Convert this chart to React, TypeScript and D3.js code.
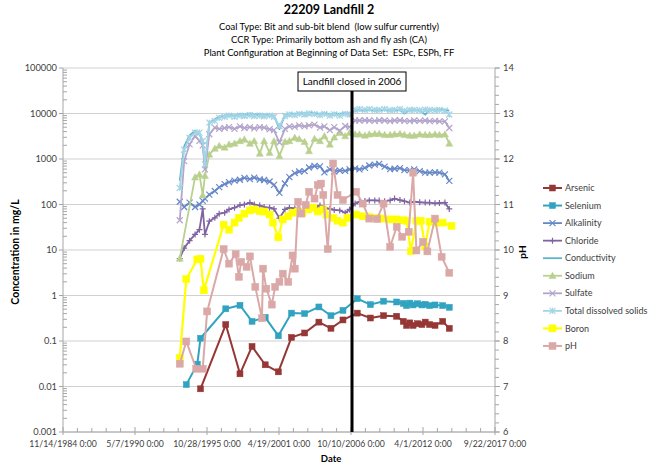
import React from "react";
import * as d3 from "d3";

// ---------- DATA ----------
const titleLines = [
  "Coal Type: Bit and sub-bit blend  (low sulfur currently)",
  "CCR Type: Primarily bottom ash and fly ash (CA)",
  "Plant Configuration at Beginning of Data Set:  ESPc, ESPh, FF",
];
const xTickLabels = [
  "11/14/1984 0:00", "5/7/1990 0:00", "10/28/1995 0:00", "4/19/2001 0:00",
  "10/10/2006 0:00", "4/1/2012 0:00", "9/22/2017 0:00",
];
const leftTickLabels = ["0.001", "0.01", "0.1", "1", "10", "100", "1000", "10000", "100000"];
const rightTickLabels = ["6", "7", "8", "9", "10", "11", "12", "13", "14"];
const closureDate = "2006-11-07";
const closureLabel = "Landfill closed in 2006";

const metalDates = [
  "1994-04", "1995-02", "1995-05", "1997-04", "1998-05", "1999-04", "2000-04", "2001-04",
  "2002-04", "2003-04", "2004-05", "2005-04", "2006-03", "2007-04", "2008-04", "2009-04",
  "2010-04", "2010-10", "2011-01", "2011-04", "2011-07", "2011-11", "2012-03", "2012-06",
  "2012-10", "2013-03", "2013-10", "2014-04",
];
const arsenic = [
  null, null, 0.0089, 0.23, 0.019, 0.076, 0.03, 0.021, 0.12, 0.15, 0.26, 0.19, 0.29, 0.41,
  0.32, 0.36, 0.35, 0.27, 0.22, 0.25, 0.22, 0.24, 0.23, 0.26, 0.23, 0.22, 0.27, 0.19,
];
const selenium = [
  0.011, 0.031, 0.115, 0.51, 0.61, 0.27, 0.33, 0.13, 0.41, 0.4, 0.56, 0.36, 0.47, 0.85,
  0.63, 0.75, 0.72, 0.67, 0.6, 0.68, 0.62, 0.66, 0.62, 0.64, 0.6, 0.62, 0.6, 0.55,
];

const denseDates = [
  "1993-10", "1994-02", "1994-07", "1994-12", "1995-04", "1995-07", "1995-09", "1996-01",
  "1996-06", "1996-10", "1997-03", "1997-07", "1997-12", "1998-05", "1998-09", "1999-02",
  "1999-06", "1999-11", "2000-03", "2000-08", "2000-12", "2001-05", "2001-10", "2002-02",
  "2002-07", "2002-11", "2003-04", "2003-08", "2004-01", "2004-06", "2004-10", "2005-03",
  "2005-07", "2005-12", "2006-05", "2006-09", "2007-02", "2007-06", "2007-11", "2008-03",
  "2008-08", "2008-12", "2009-05", "2009-10", "2010-02", "2010-07", "2010-11", "2011-04",
  "2011-08", "2012-01", "2012-06", "2012-10", "2013-03", "2013-07", "2013-12", "2014-04",
];
const alkalinity = [
  115, 88, 110, 88, 100, 120, 135, 165, 198, 240, 280, 310, 335, 350, 385, 360, 390, 355, 345, 320,
  270, 180, 290, 400, 490, 530, 540, 650, 700, 690, 510, 590, 530, 560, 550, 590, 620, 590, 640, 720,
  750, 780, 680, 600, 610, 630, 570, 570, 590, 540, 500, 500, 510, 500, 460, 330,
];
const chloride = [
  6.5, 11, 16, 22, 28, 80, 22, 43, 51, 63, 66, 78, 85, 97, 100, 110, 100, 95, 88, 85,
  80, 50, 78, 85, 82, 78, 72, 78, 82, 95, 85, 80, 76, 74, 66, 78, 105, 115, 120, 123,
  123, 122, 118, 123, 135, 125, 118, 110, 115, 112, 110, 110, 106, 108, 110, 80,
];
const conductivity = [
  330, 1900, 3300, 4200, 3500, 2500, 590, 6300, 7500, 8500, 9000, 9500, 9000, 9800, 9500, 10000, 9500, 9800, 9300, 9500,
  9000, 4500, 9200, 10000, 9800, 10200, 10000, 10500, 10200, 9800, 10500, 9500, 10000, 9800, 10500, 10000, 11500, 11800, 11500, 12000,
  11500, 11800, 12000, 11500, 11800, 12000, 10000, 11800, 12000, 11500, 9500, 12000, 12000, 12500, 12000, 11500,
];
const sodium = [
  6.5, null, null, 400, 460, 160, 430, 1260, 1700, 1950, 1800, 2100, 2200, 2500, 2700, 2200, 2500, 1320, 2500, 1380,
  2500, 1170, 2400, 2500, 2950, 2750, 2400, 1500, 2800, 2500, 3200, 2100, 3000, 3800, 3200, 3800, 3500, 3500, 3300, 3500,
  3600, 3600, 3400, 3400, 3500, 3600, 3400, 3300, 3300, 3500, 3400, 3400, 3500, 3400, 3500, 2200,
];
const sulfate = [
  45, 900, 2100, 3200, 2500, 2000, 590, 3500, 4900, 4600, 4800, 5000, 4600, 5200, 4800, 5000, 4700, 5000, 4900, 4500,
  4300, 2300, 4600, 5200, 5100, 5500, 5200, 5500, 5700, 4900, 5200, 4300, 5000, 4200, 5300, 5000, 7000, 7000, 7100, 7000,
  6900, 7100, 7000, 6800, 7000, 7100, 6900, 6800, 7000, 6900, 7000, 6800, 6900, 6700, 6700, 4800,
];
const tds = [
  230, 1600, 2900, 3800, 3800, 2500, 760, 6300, 6900, 8000, 8500, 9000, 8500, 9000, 8800, 9200, 8800, 9000, 8700, 9000,
  8500, 5300, 8800, 9500, 9200, 9800, 9500, 10000, 9700, 9200, 9800, 9000, 9600, 9000, 9800, 9500, 12000, 12500, 12000, 12500,
  12000, 12000, 12500, 11800, 12000, 12500, 11500, 12000, 12000, 11800, 12200, 12000, 11800, 12000, 11500, 9500,
];

const boronDates = [
  "1993-10", "1994-04", "1995-02", "1995-05", "1995-08", "1997-02", "1997-07", "1997-12",
  "1998-04", "1998-09", "1999-02", "1999-06", "1999-11", "2000-03", "2000-08", "2000-11",
  "2001-04", "2001-08", "2002-01", "2002-05", "2002-10", "2003-02", "2003-07", "2003-12",
  "2004-04", "2004-09", "2004-12", "2005-06", "2005-10", "2006-03", "2006-07", "2007-03",
  "2007-09", "2008-03", "2008-10", "2009-03", "2009-10", "2010-04", "2010-10", "2011-01",
  "2011-05", "2011-10", "2012-02", "2012-06", "2012-10", "2013-04", "2013-10", "2014-06",
];
const boron = [
  0.042, 2.3, 6.2, 6.4, 1.3, 36, 28, 40, 51, 63, 74, 78, 71, 70, 60, 40,
  19, 47, 55, 66, 70, 66, 78, 85, 70, 78, 60, 51, 44, 40, 51, 60,
  55, 53, 51, 49, 47, 47, 45, 44, 9.4, 44, 44, 12, 42, 40, 40, 34,
];

const phDates = [
  "1993-10", "1994-04", "1995-01", "1995-07", "1995-11", "1997-02", "1997-07", "1998-01",
  "1998-04", "1998-06", "1998-11", "1999-02", "1999-07", "2000-01", "2000-02", "2000-05",
  "2000-10", "2001-01", "2001-05", "2001-08", "2002-01", "2002-05", "2002-07", "2002-10",
  "2003-01", "2003-05", "2003-08", "2004-01", "2004-04", "2004-07", "2004-09", "2005-01",
  "2005-06", "2005-10", "2006-03", "2007-03", "2007-09", "2008-03", "2008-10", "2009-04",
  "2009-10", "2010-04", "2010-09", "2011-03", "2011-07", "2011-10", "2012-04", "2012-08",
  "2013-03", "2013-09", "2014-04",
];
const ph = [
  7.5, 7.99, 7.39, 7.39, 8.65, 10.02, 9.7, 9.91, 9.41, 9.74, 9.63, 9.86, 9.19, 8.5, 9.59, 9.15,
  8.8, 9.19, 9.3, 9.48, 9.3, 9.88, 9.59, 11.06, 10.8, 10.99, 11.28, 11.13, 11.43, 11.46, 11.21, 10.02,
  11.9, 11.21, 11.1, 11.28, 11.02, 10.69, 10.68, 11.02, 10.07, 10.51, 10.29, 10.4, 11.7, 9.99, 10.18, 9.97,
  10.69, 9.85, 9.5,
];

// ---------- LAYOUT ----------
const W = 657;
const H = 466;
const PL = 63, PR = 495, PT = 68, PB = 432;
const FONT = "Lato, 'Open Sans', sans-serif";

type Shape = "square" | "x" | "plus" | "triangle" | "star" | "none";

const seriesDefs = [
  { name: "Arsenic", dates: metalDates, values: arsenic, color: "#953735", shape: "square" as Shape, axis: "L", size: 6, lw: 2 },
  { name: "Selenium", dates: metalDates, values: selenium, color: "#31a3c0", shape: "square" as Shape, axis: "L", size: 6, lw: 2 },
  { name: "Alkalinity", dates: denseDates, values: alkalinity, color: "#6788c8", shape: "x" as Shape, axis: "L", size: 6, lw: 1.8 },
  { name: "Chloride", dates: denseDates, values: chloride, color: "#8064a2", shape: "plus" as Shape, axis: "L", size: 6, lw: 1.8 },
  { name: "Conductivity", dates: denseDates, values: conductivity, color: "#5bb3cc", shape: "none" as Shape, axis: "L", size: 0, lw: 1.8 },
  { name: "Sodium", dates: denseDates, values: sodium, color: "#b9d08f", shape: "triangle" as Shape, axis: "L", size: 7, lw: 1.8 },
  { name: "Sulfate", dates: denseDates, values: sulfate, color: "#b3a5cc", shape: "x" as Shape, axis: "L", size: 6, lw: 1.8 },
  { name: "Total dissolved solids", dates: denseDates, values: tds, color: "#a3d5e6", shape: "star" as Shape, axis: "L", size: 6, lw: 1.8 },
  { name: "Boron", dates: boronDates, values: boron, color: "#ffff00", shape: "square" as Shape, axis: "L", size: 7, lw: 2.2 },
  { name: "pH", dates: phDates, values: ph, color: "#dba8a8", shape: "square" as Shape, axis: "R", size: 7, lw: 2 },
];

function Marker({ shape, x, y, size, color }: { shape: Shape; x: number; y: number; size: number; color: string }) {
  const h = size / 2;
  switch (shape) {
    case "square":
      return <rect x={x - h} y={y - h} width={size} height={size} fill={color} stroke={color} strokeWidth={0.5} />;
    case "x":
      return (
        <path d={`M${x - h},${y - h}L${x + h},${y + h}M${x - h},${y + h}L${x + h},${y - h}`} stroke={color} strokeWidth={1.2} fill="none" />
      );
    case "plus":
      return <path d={`M${x - h},${y}L${x + h},${y}M${x},${y - h}L${x},${y + h}`} stroke={color} strokeWidth={1.2} fill="none" />;
    case "triangle":
      return <path d={`M${x},${y - h}L${x + h},${y + h * 0.8}L${x - h},${y + h * 0.8}Z`} fill={color} stroke={color} strokeWidth={0.5} />;
    case "star":
      return (
        <path
          d={`M${x - h},${y - h}L${x + h},${y + h}M${x - h},${y + h}L${x + h},${y - h}M${x},${y - h}L${x},${y + h}`}
          stroke={color}
          strokeWidth={1.2}
          fill="none"
        />
      );
    default:
      return null;
  }
}

export default function App() {
  const parseYM = d3.utcParse("%Y-%m");
  const parseDay = d3.utcParse("%Y-%m-%d");
  const parseTick = d3.utcParse("%m/%d/%Y");
  const tickDates = xTickLabels.map((l) => parseTick(l.split(" ")[0]) as Date);

  const x = d3.scaleUtc().domain([tickDates[0], tickDates[tickDates.length - 1]]).range([PL, PR]);
  const yL = d3.scaleLog().domain([+leftTickLabels[0], +leftTickLabels[leftTickLabels.length - 1]]).range([PB, PT]);
  const yR = d3.scaleLinear().domain([+rightTickLabels[0], +rightTickLabels[rightTickLabels.length - 1]]).range([PB, PT]);

  const xMinor: Date[] = [];
  for (let i = 0; i < tickDates.length - 1; i++) {
    for (let k = 1; k < 5; k++) xMinor.push(d3.utcDay.offset(tickDates[i], k * 400));
  }
  const lMinor: number[] = [];
  for (let i = 0; i < leftTickLabels.length - 1; i++) {
    const base = +leftTickLabels[i];
    for (let k = 2; k <= 9; k++) lMinor.push(base * k);
  }
  const rMinor = d3.range(+rightTickLabels[0], +rightTickLabels[rightTickLabels.length - 1] + 0.001, 0.2);

  const closeX = x(parseDay(closureDate) as Date);

  const series = seriesDefs.map((s) => {
    const ys = s.axis === "L" ? yL : yR;
    const pts = s.dates
      .map((d, i) => ({ d: parseYM(d) as Date, v: s.values[i] }))
      .filter((p) => p.v !== null && p.v !== undefined)
      .map((p) => ({ px: x(p.d), py: ys(p.v as number) }));
    const line = d3.line<{ px: number; py: number }>().x((p) => p.px).y((p) => p.py);
    return { ...s, pts, path: line(pts) || "" };
  });

  const legendX = 543;
  const legendY0 = 188;
  const legendDy = 17.55;

  return (
    <svg width={W} height={H} style={{ position: "absolute", left: 0, top: 0, display: "block", background: "#fff" }} fontFamily={FONT}>
      <rect x={0} y={0} width={W} height={H} fill="#fff" />
      <text x={329} y={14} textAnchor="middle" fontSize={12.5} fontWeight="bold" fill="#000">22209 Landfill 2</text>
      {titleLines.map((t, i) => (
        <text key={t} x={329} y={29.5 + i * 13} textAnchor="middle" fontSize={9.4} fill="#000" style={{ whiteSpace: "pre" }}>{t}</text>
      ))}

      {leftTickLabels.map((t) => (
        <line key={"g" + t} x1={PL} x2={PR} y1={yL(+t)} y2={yL(+t)} stroke="#d0d0d0" strokeWidth={1} />
      ))}
      <line x1={PL} x2={PL} y1={PT} y2={PB} stroke="#a6a6a6" />
      <line x1={PR} x2={PR} y1={PT} y2={PB} stroke="#a6a6a6" />
      <line x1={PL} x2={PR} y1={PB} y2={PB} stroke="#a6a6a6" />
      {lMinor.map((v, i) => (
        <line key={"lm" + i} x1={PL} x2={PL + 4} y1={yL(v)} y2={yL(v)} stroke="#a6a6a6" />
      ))}
      {leftTickLabels.map((t) => (
        <line key={"lt" + t} x1={PL - 4} x2={PL} y1={yL(+t)} y2={yL(+t)} stroke="#a6a6a6" />
      ))}
      {rMinor.map((v, i) => (
        <line key={"rm" + i} x1={PR} x2={PR + 4} y1={yR(v)} y2={yR(v)} stroke="#a6a6a6" />
      ))}
      {rightTickLabels.map((t) => (
        <line key={"rt" + t} x1={PR} x2={PR + 5} y1={yR(+t)} y2={yR(+t)} stroke="#a6a6a6" />
      ))}
      {xMinor.map((d, i) => (
        <line key={"xm" + i} x1={x(d)} x2={x(d)} y1={PB - 4} y2={PB} stroke="#a6a6a6" />
      ))}
      {tickDates.map((d, i) => (
        <line key={"xt" + i} x1={x(d)} x2={x(d)} y1={PB - 5} y2={PB + 3} stroke="#a6a6a6" />
      ))}

      {leftTickLabels.map((t) => (
        <text key={"ll" + t} x={57} y={yL(+t)} dy="0.35em" textAnchor="end" fontSize={9.3} fill="#404040">{t}</text>
      ))}
      {rightTickLabels.map((t) => (
        <text key={"rl" + t} x={503} y={yR(+t)} dy="0.35em" textAnchor="start" fontSize={9.3} fill="#404040">{t}</text>
      ))}
      {xTickLabels.map((t, i) => (
        <text key={"xl" + t} x={x(tickDates[i])} y={447} textAnchor="middle" fontSize={8.7} fill="#404040">{t}</text>
      ))}

      <text x={331} y={462} textAnchor="middle" fontSize={9.5} fontWeight="bold" fill="#000">Date</text>
      <text transform={`translate(19,${(PT + PB) / 2 + 2}) rotate(-90)`} textAnchor="middle" fontSize={10.5} fontWeight="bold" fill="#000">
        Concentration in mg/L
      </text>
      <text transform={`translate(526,${(PT + PB) / 2 + 2}) rotate(-90)`} textAnchor="middle" fontSize={10} fontWeight="bold" fill="#000">
        pH
      </text>

      {series.map((s) => (
        <g key={s.name}>
          <path d={s.path} fill="none" stroke={s.color} strokeWidth={s.lw} strokeLinejoin="round" />
          {s.shape !== "none" &&
            s.pts.map((p, i) => <Marker key={i} shape={s.shape} x={p.px} y={p.py} size={s.size} color={s.color} />)}
        </g>
      ))}

      <line x1={closeX} x2={closeX} y1={91} y2={PB} stroke="#000" strokeWidth={3} />
      <rect x={closeX - 54} y={72} width={108} height={19} fill="#fff" stroke="#000" strokeWidth={1} />
      <text x={closeX} y={85} textAnchor="middle" fontSize={10} fill="#000">{closureLabel}</text>

      {series.map((s, i) => {
        const ly = legendY0 + i * legendDy;
        return (
          <g key={"lg" + s.name}>
            <line x1={legendX} x2={legendX + 19} y1={ly} y2={ly} stroke={s.color} strokeWidth={s.lw} />
            {s.shape !== "none" && <Marker shape={s.shape} x={legendX + 9.5} y={ly} size={s.size} color={s.color} />}
            <text x={legendX + 22} y={ly} dy="0.35em" fontSize={9} fill="#404040">{s.name}</text>
          </g>
        );
      })}
    </svg>
  );
}
